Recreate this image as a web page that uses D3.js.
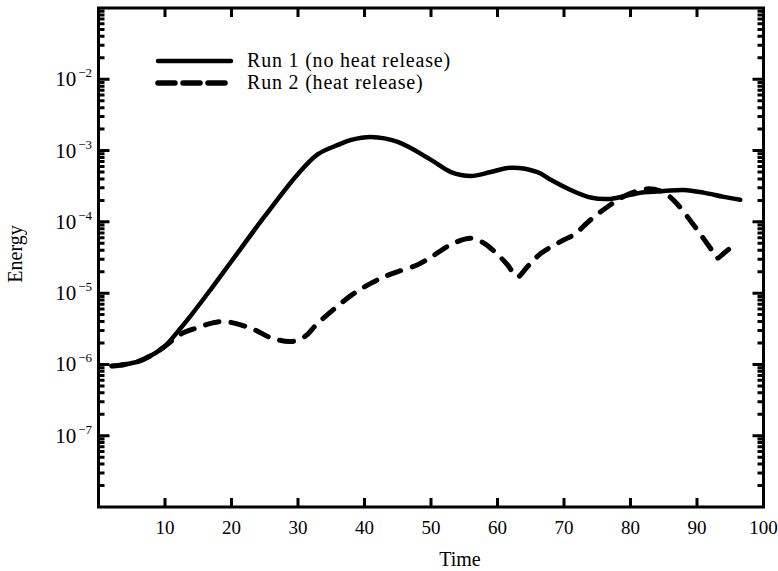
<!DOCTYPE html>
<html>
<head>
<meta charset="utf-8">
<script src="https://cdn.jsdelivr.net/npm/d3@7"></script>
<style>
  body { margin: 0; background: #fff; }
  svg { display: block; }
  text { font-family: "Liberation Serif", "DejaVu Serif", serif; fill: #000; }
</style>
</head>
<body>
<div id="chart"></div>
<script>
const width = 778;
const height = 571;

// Run 1 (no heat release)
const run1Time = [2, 4, 6, 8, 10, 12, 14, 17, 20, 25, 30, 33, 36, 38, 41, 45, 50, 53, 56, 59, 62, 66, 68, 71, 74, 77, 80, 82, 85, 88, 91, 94, 96.5];
const run1Energy = [9.5e-7, 1.0e-6, 1.1e-6, 1.35e-6, 1.8e-6, 2.95e-6, 5.0e-6, 1.17e-5, 2.8e-5, 1.2e-4, 4.7e-4, 8.9e-4, 1.2e-3, 1.41e-3, 1.55e-3, 1.32e-3, 7.4e-4, 5.0e-4, 4.4e-4, 5.0e-4, 5.75e-4, 5.0e-4, 3.9e-4, 2.8e-4, 2.2e-4, 2.1e-4, 2.4e-4, 2.6e-4, 2.7e-4, 2.8e-4, 2.57e-4, 2.24e-4, 2.04e-4];

// Run 2 (heat release)
const run2Time = [2, 4, 6, 8, 10, 12.5, 15, 17, 19, 23, 26, 29, 31, 33, 38, 41, 43, 45, 48, 50, 53, 56, 58, 60, 61.5, 63, 64.5, 66.5, 70, 71.5, 74, 77, 79.5, 82.5, 85, 86.5, 88, 90, 92, 93, 94, 96];
const run2Energy = [9.5e-7, 1.0e-6, 1.1e-6, 1.35e-6, 1.8e-6, 2.7e-6, 3.3e-6, 3.8e-6, 4.0e-6, 3.2e-6, 2.35e-6, 2.1e-6, 2.45e-6, 3.8e-6, 9.3e-6, 1.38e-5, 1.7e-5, 2.0e-5, 2.5e-5, 3.2e-5, 4.8e-5, 5.9e-5, 5.0e-5, 3.5e-5, 2.5e-5, 1.7e-5, 2.35e-5, 3.6e-5, 5.6e-5, 6.6e-5, 1.07e-4, 1.74e-4, 2.4e-4, 2.9e-4, 2.6e-4, 2.0e-4, 1.38e-4, 7.8e-5, 4.3e-5, 3.1e-5, 3.6e-5, 5.2e-5];

const xTicks = [10, 20, 30, 40, 50, 60, 70, 80, 90, 100];
const yExponents = [-2, -3, -4, -5, -6, -7];
const legendLabels = ["Run 1 (no heat release)", "Run 2 (heat release)"];

const margin = {left: 98.5, right: 14.5, top: 8, bottom: 64};
const x0 = margin.left, x1 = width - margin.right;
const y0 = margin.top, y1 = height - margin.bottom;

const svg = d3.select("#chart")
    .append("svg")
    .attr("width", width)
    .attr("height", height);

const x = d3.scaleLinear().domain([0, 100]).range([x0, x1]);
const y = d3.scaleLog().domain([1e-8, 1e-1]).range([y1, y0]);

// major (decade) and minor ticks on the log axis
const majors = [];
const minors = [];
for (let e = -8; e <= -2; e++) {
    const base = Math.pow(10, e);
    if (e > -8) majors.push(base);
    for (let k = 2; k <= 9; k++) minors.push(k * base);
}

// frame and tick marks in one path
const frame = d3.path();
frame.rect(x0, y0, x1 - x0, y1 - y0);
[[x0, 1], [x1, -1]].forEach(([xp, dir]) => {
    majors.forEach(v => { frame.moveTo(xp, y(v)); frame.lineTo(xp + dir * 11, y(v)); });
    minors.forEach(v => { frame.moveTo(xp, y(v)); frame.lineTo(xp + dir * 6, y(v)); });
});
xTicks.slice(0, -1).forEach(v => {
    frame.moveTo(x(v), y0); frame.lineTo(x(v), y0 + 9);
    frame.moveTo(x(v), y1); frame.lineTo(x(v), y1 - 9);
});
svg.append("path")
    .attr("d", frame.toString())
    .attr("fill", "none")
    .attr("stroke", "#000")
    .attr("stroke-width", 3);

// x tick labels
svg.append("g")
    .selectAll("text")
    .data(xTicks)
    .enter().append("text")
    .attr("x", d => x(d))
    .attr("y", 534)
    .attr("text-anchor", "middle")
    .attr("font-size", 19)
    .text(d => d);

// y tick labels as 10^n
const yLab = svg.append("g")
    .selectAll("text")
    .data(yExponents)
    .enter().append("text")
    .attr("x", 92)
    .attr("y", d => y(Math.pow(10, d)) + 7)
    .attr("text-anchor", "end")
    .attr("font-size", 21);
yLab.append("tspan").text("10");
yLab.append("tspan")
    .attr("dy", -9)
    .attr("dx", 2)
    .attr("font-size", 13)
    .text(d => "\u2212" + Math.abs(d));

// axis titles
svg.append("text")
    .attr("x", 460).attr("y", 566)
    .attr("text-anchor", "middle")
    .attr("font-size", 20)
    .text("Time");

svg.append("text")
    .attr("transform", "translate(22,254) rotate(-90)")
    .attr("text-anchor", "middle")
    .attr("font-size", 20)
    .text("Energy");

// curves
const line = d3.line()
    .x(d => x(d[0]))
    .y(d => y(d[1]))
    .curve(d3.curveCatmullRom.alpha(0.5));

svg.append("path")
    .datum(d3.zip(run1Time, run1Energy))
    .attr("d", line)
    .attr("fill", "none")
    .attr("stroke", "#000")
    .attr("stroke-width", 4.5)
    .attr("stroke-linecap", "round");

svg.append("path")
    .datum(d3.zip(run2Time, run2Energy))
    .attr("d", line)
    .attr("fill", "none")
    .attr("stroke", "#000")
    .attr("stroke-width", 5)
    .attr("stroke-dasharray", "14,12")
    .attr("stroke-linecap", "round");

// legend
const legend = svg.append("g");
const legendY = [61, 83];
legend.selectAll("line")
    .data(legendLabels)
    .enter().append("line")
    .attr("x1", 158).attr("x2", 231)
    .attr("y1", (d, i) => legendY[i]).attr("y2", (d, i) => legendY[i])
    .attr("stroke", "#000")
    .attr("stroke-width", (d, i) => i ? 5.5 : 4.5)
    .attr("stroke-dasharray", (d, i) => i ? "17,8" : null)
    .attr("stroke-linecap", "round");
legend.selectAll("text")
    .data(legendLabels)
    .enter().append("text")
    .attr("x", 247)
    .attr("y", (d, i) => legendY[i] + 6)
    .attr("font-size", 20)
    .attr("letter-spacing", 0.8)
    .text(d => d);
</script>
</body>
</html>
